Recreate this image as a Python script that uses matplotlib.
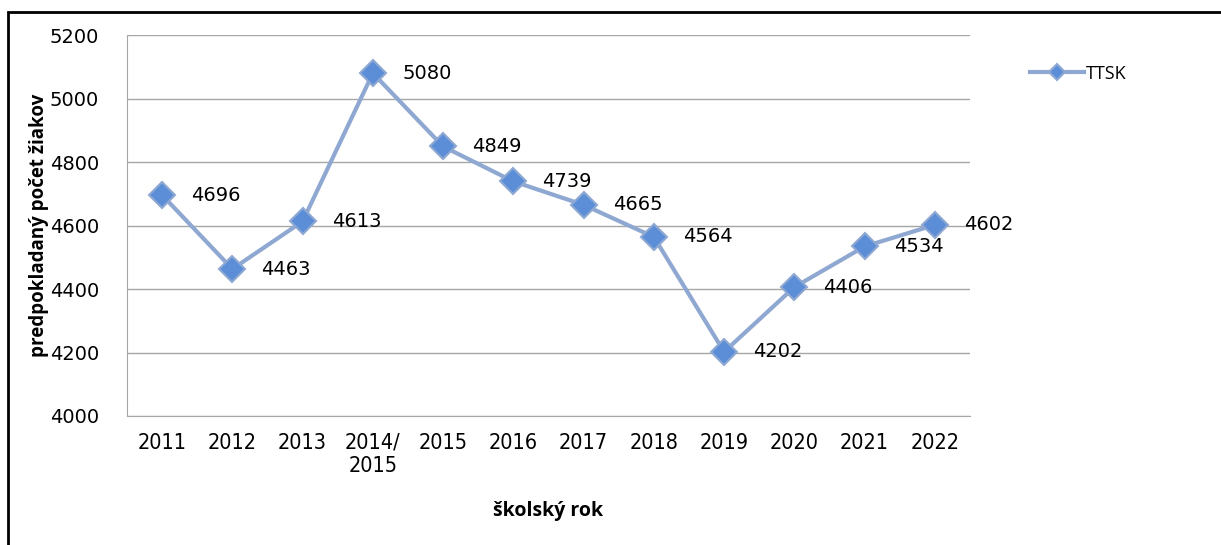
import matplotlib
matplotlib.use("Agg")
import matplotlib.pyplot as plt
from matplotlib.patches import Rectangle

years = ["2011", "2012", "2013", "2014/\n2015", "2015", "2016", "2017",
         "2018", "2019", "2020", "2021", "2022"]
pupils = [4696, 4463, 4613, 5080, 4849, 4739, 4665, 4564, 4202, 4406, 4534, 4602]
yticks = [4000, 4200, 4400, 4600, 4800, 5000, 5200]

fig = plt.figure(figsize=(12.21, 5.45), dpi=100)
ax = fig.add_axes([0.104, 0.2367, 0.6904, 0.699])

x = list(range(len(years)))
ax.plot(x, pupils, color="#8FA8D2", lw=3, marker="D", markersize=13,
        markerfacecolor="#5B8ED6", markeredgecolor="#8FA8D2", markeredgewidth=1.5,
        label="TTSK", zorder=3)

for xi, v in zip(x, pupils):
    ax.annotate(str(v), (xi, v), xytext=(21, 0), textcoords="offset points",
                va="center", ha="left", fontsize=14, family="DejaVu Sans")

ax.set_xlim(-0.5, len(years) - 0.5)
ax.set_ylim(4000, 5200)
ax.set_yticks(yticks)
ax.set_xticks(x)
ax.set_xticklabels(years, fontsize=15.5, family="DejaVu Sans", stretch="condensed",
                   linespacing=1.2)
ax.set_yticklabels([str(t) for t in yticks], fontsize=14, family="DejaVu Sans")
ax.tick_params(axis="x", length=0, pad=12)
ax.tick_params(axis="y", length=0, pad=20)
ax.grid(axis="y", color="#A6A6A6", lw=1)
ax.set_axisbelow(True)
for s in ["top", "right"]:
    ax.spines[s].set_visible(False)
for s in ["left", "bottom"]:
    ax.spines[s].set_color("#A6A6A6")

ax.set_ylabel("predpokladaný počet žiakov", fontsize=13.5, fontweight="bold",
              family="Open Sans")
ax.yaxis.set_label_coords(-0.093, 0.5)
ax.set_xlabel("školský rok", fontsize=14, fontweight="bold", family="Open Sans")
ax.xaxis.set_label_coords(0.5, -0.222)

ax.legend(loc="upper left", bbox_to_anchor=(1.052, 0.965), frameon=False,
          handlelength=3.0, handletextpad=0.1, markerscale=0.6,
          prop={"family": "Open Sans", "size": 13})

fig.patches.append(Rectangle((0.0066, -0.01), 1.0, 0.988, transform=fig.transFigure,
                             fill=False, edgecolor="black", lw=2))

fig.savefig("out.png", dpi=100)
